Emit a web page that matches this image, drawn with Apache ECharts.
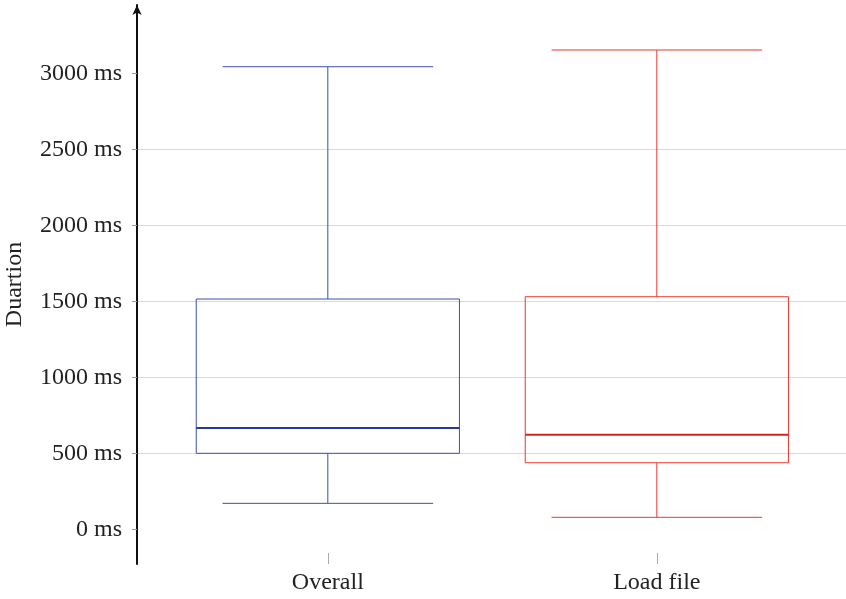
<!DOCTYPE html>
<html>
<head>
<meta charset="utf-8">
<style>
  html, body { margin: 0; padding: 0; background: #fff; }
  #chart { width: 846px; height: 599px; }
</style>
<script src="https://cdn.jsdelivr.net/npm/echarts@6/dist/echarts.min.js"></script>
</head>
<body>
<div id="chart"></div>
<script>
// box plot values (ms)
var categories = ['Overall', 'Load file'];
var lowerWhisker = [171, 79];
var lowerQuartile = [500, 438];
var medians = [666, 622];
var upperQuartile = [1515, 1530];
var upperWhisker = [3043, 3153];
var yTicks = [0, 500, 1000, 1500, 2000, 2500, 3000];

var boxColors = ['#3b4fb0', '#e8392e'];
var medianColors = ['#26389a', '#d8231c'];

var boxData = categories.map(function (name, i) {
  return [i + 1, lowerWhisker[i], lowerQuartile[i], medians[i], upperQuartile[i], upperWhisker[i]];
});

var font = 'Liberation Serif';

function renderBox(params, api) {
  var x = api.value(0);
  var col = boxColors[params.dataIndex];
  var halfBox = api.size([0.8, 0])[0] / 2;
  var halfCap = api.size([0.64, 0])[0] / 2;
  var pMin = api.coord([x, api.value(1)]);
  var pQ1 = api.coord([x, api.value(2)]);
  var pMed = api.coord([x, api.value(3)]);
  var pQ3 = api.coord([x, api.value(4)]);
  var pMax = api.coord([x, api.value(5)]);
  var cx = pMed[0];
  var thin = { stroke: col, lineWidth: 1, fill: null };
  return {
    type: 'group',
    children: [
      { type: 'line', shape: { x1: cx, y1: pMax[1], x2: cx, y2: pQ3[1] }, style: thin },
      { type: 'line', shape: { x1: cx, y1: pQ1[1], x2: cx, y2: pMin[1] }, style: thin },
      { type: 'line', shape: { x1: cx - halfCap, y1: pMax[1], x2: cx + halfCap, y2: pMax[1] }, style: thin },
      { type: 'line', shape: { x1: cx - halfCap, y1: pMin[1], x2: cx + halfCap, y2: pMin[1] }, style: thin },
      { type: 'rect', shape: { x: cx - halfBox, y: pQ3[1], width: halfBox * 2, height: pQ1[1] - pQ3[1] },
        style: { stroke: col, lineWidth: 1, fill: 'none' } },
      { type: 'line', shape: { x1: cx - halfBox, y1: pMed[1], x2: cx + halfBox, y2: pMed[1] },
        style: { stroke: medianColors[params.dataIndex], lineWidth: 2 } }
    ]
  };
}

var myChart = echarts.init(document.getElementById('chart'));
var option = {
  animation: false,
  backgroundColor: '#fff',
  grid: { left: 137, right: 0, top: 5, bottom: 35, containLabel: false, outerBoundsMode: 'none' },
  xAxis: {
    type: 'value',
    min: 0.42,
    max: 2.575,
    axisLine: { show: false, onZero: false },
    splitLine: { show: false },
    axisTick: { show: true, inside: true, length: 11, customValues: [1, 2], lineStyle: { color: '#aaa' } },
    axisLabel: {
      customValues: [1, 2],
      margin: 7,
      fontFamily: font,
      fontSize: 24,
      color: '#222',
      formatter: function (v) { return categories[Math.round(v) - 1]; }
    }
  },
  yAxis: {
    type: 'value',
    min: -228,
    max: 3449,
    name: 'Duartion',
    nameLocation: 'middle',
    nameRotate: 90,
    nameGap: 110,
    nameTextStyle: { fontFamily: font, fontSize: 24, color: '#222' },
    axisLine: {
      show: true,
      onZero: false,
      symbol: ['none', 'arrow'],
      symbolSize: [7, 10],
      lineStyle: { color: '#111', width: 2 }
    },
    axisTick: { show: true, length: 5, customValues: yTicks, lineStyle: { color: '#999' } },
    axisLabel: {
      customValues: yTicks,
      margin: 15,
      fontFamily: font,
      fontSize: 24,
      color: '#222',
      formatter: function (v) { return v + ' ms'; }
    },
    splitLine: { show: true, showMinLine: false, showMaxLine: false, lineStyle: { color: '#d9d9d9', width: 1 } }
  },
  series: [{
    type: 'custom',
    renderItem: renderBox,
    data: boxData,
    encode: { x: 0, y: [1, 2, 3, 4, 5] }
  }]
};
myChart.setOption(option);

window.addEventListener('resize', function () {
  myChart.resize();
});
</script>
</body>
</html>
